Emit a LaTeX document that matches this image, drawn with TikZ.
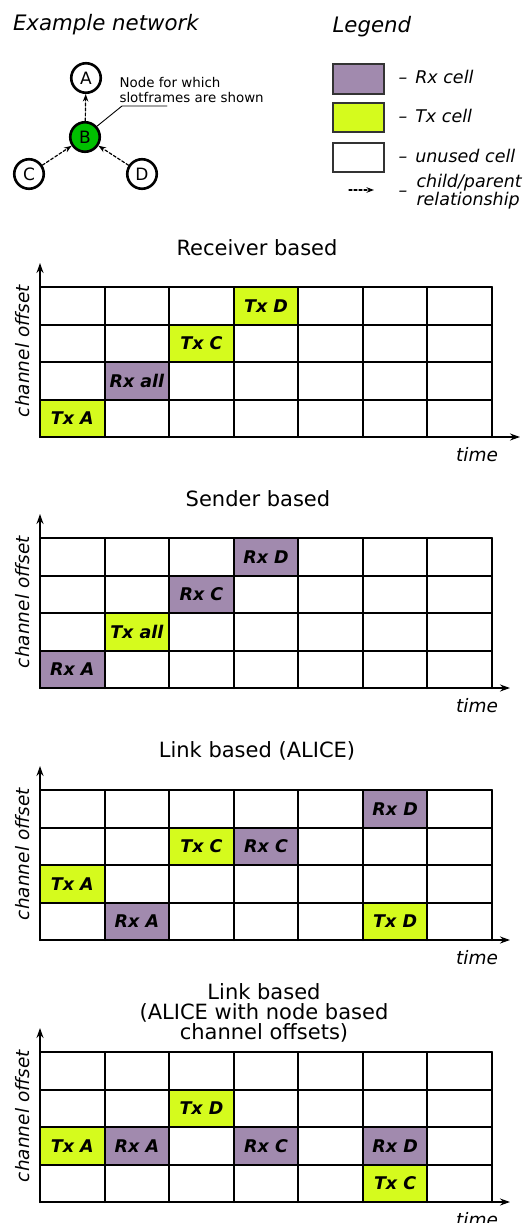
\documentclass[tikz,border=0pt]{standalone}
\usepackage{fontspec}
\setmainfont{DejaVu Sans}
\usetikzlibrary{arrows.meta}

\definecolor{rxcell}{RGB}{161,138,174}
\definecolor{txcell}{RGB}{213,251,29}
\definecolor{nodeB}{RGB}{0,192,0}
\def\cw{64.57}
\def\ch{37.5}

\tikzset{
	rx/.style={fill=rxcell},
	tx/.style={fill=txcell},
	gridline/.style={line width=2pt},
	axisarrow/.style={line width=1.7pt, -{Stealth[length=10pt,width=7pt]}},
	celltext/.style={font=\fontsize{17.5}{18}\selectfont\bfseries\itshape},
	axislabel/.style={font=\fontsize{18.5}{19}\selectfont\itshape},
	title/.style={align=center, font=\fontsize{21}{20}\selectfont},
	station/.style={circle, draw, line width=2.6pt, minimum size=29.5pt, inner sep=0pt, font=\fontsize{17}{17}\selectfont},
	link/.style={line width=1.2pt, dash pattern=on 3pt off 2pt, -{Stealth[length=7.5pt,width=5.5pt]}},
	legendbox/.style={draw=black!80, line width=2pt, minimum width=51pt, minimum height=29pt, inner sep=0pt},
	legendtext/.style={anchor=base west, align=left, font=\fontsize{17.5}{16.5}\selectfont\itshape},
}

% #1 top edge, #2 title centre, #3 title, #4 end of time axis, #5 used cells
\newcommand{\slotframe}[5]{%
	\begin{scope}[shift={(40,#1)}]
		\foreach \col/\row/\kind/\lbl in {#5}{
			\fill[\kind] (\col*\cw,\row*\ch) rectangle ++(\cw,\ch);
			\node[celltext] (cell-#1-\col-\row) at ({(\col+0.5)*\cw},{(\row+0.5)*\ch}) {\lbl};
		}
		\foreach \i in {0,...,7} \draw[gridline] (\i*\cw,0) -- (\i*\cw,4*\ch);
		\foreach \j in {0,...,4} \draw[gridline] (0,\j*\ch) -- (7*\cw,\j*\ch);
		\draw[axisarrow] (0,4*\ch) -- (0,-24);
		\draw[axisarrow] (0,4*\ch) -- ({#4-40},4*\ch);
		\node[title] (title-#1) at ({#2-40},-39) {#3};
		\node[axislabel, rotate=90] (chan-#1) at (-17,64) {channel offset};
		\node[axislabel] (time-#1) at (437,168) {time};
	\end{scope}}

\begin{document}
\begin{tikzpicture}[x=1pt, y=-1pt, line cap=round]
	\useasboundingbox (0,0) rectangle (523,1223);

	% example network
	\node[anchor=base west, font=\fontsize{21.3}{22}\selectfont\itshape] (nettitle) at (9.5,30.5) {Example network};
	\node[station] (A) at (86,78) {A};
	\node[station, fill=nodeB] (B) at (85,137) {B};
	\node[station] (C) at (29,174) {C};
	\node[station] (D) at (142,174) {D};
	\draw[link] (B) -- (A);
	\draw[link] (C) -- (B);
	\draw[link] (D) -- (B);

	\coordinate (bend) at (122,106);
	\node[anchor=west, align=left, font=\fontsize{13.4}{15}\selectfont] (note) at (116,90.5) {Node for which\\slotframes are shown};
	\draw[line width=0.9pt] (B.42) -- (bend) -- (167,106);

	% legend
	\node[anchor=base west, font=\fontsize{21.3}{22}\selectfont\itshape] (legend) at (329,33) {Legend};
	\node[legendbox, fill=rxcell] (lrx) at (358.5,79) {};
	\node[legendbox, fill=txcell] (ltx) at (358.5,117.5) {};
	\node[legendbox, fill=white] (lun) at (358.5,157) {};
	\node[legendtext] (trx) at (395,84) {–\hspace{8pt}Rx cell};
	\node[legendtext] (ttx) at (395,122.5) {–\hspace{8pt}Tx cell};
	\node[legendtext] (tun) at (395,162) {–\hspace{8pt}unused cell};
	\coordinate (la) at (349,190);
	\coordinate (lb) at (374,190);
	\draw[link] (la) -- (lb);
	\node[legendtext] (tdash) at (395,196) {–};
	\node[legendtext] (trel) at (413,205) {child/parent\\relationship};

	% slotframes
	\slotframe{287}{257}{Receiver based}{520}
		{3/0/tx/Tx D, 2/1/tx/Tx C, 1/2/rx/Rx all, 0/3/tx/Tx A}
	\slotframe{538}{258}{Sender based}{510}
		{3/0/rx/Rx D, 2/1/rx/Rx C, 1/2/tx/Tx all, 0/3/rx/Rx A}
	\slotframe{790}{257}{Link based (ALICE)}{510}
		{5/0/rx/Rx D, 2/1/tx/Tx C, 3/1/rx/Rx C, 0/2/tx/Tx A, 1/3/rx/Rx A, 5/3/tx/Tx D}
	\slotframe{1052}{264}{Link based\\(ALICE with node based\\channel offsets)}{510}
		{2/1/tx/Tx D, 0/2/tx/Tx A, 1/2/rx/Rx A, 3/2/rx/Rx C, 5/2/rx/Rx D, 5/3/tx/Tx C}

\end{tikzpicture}
\end{document}
